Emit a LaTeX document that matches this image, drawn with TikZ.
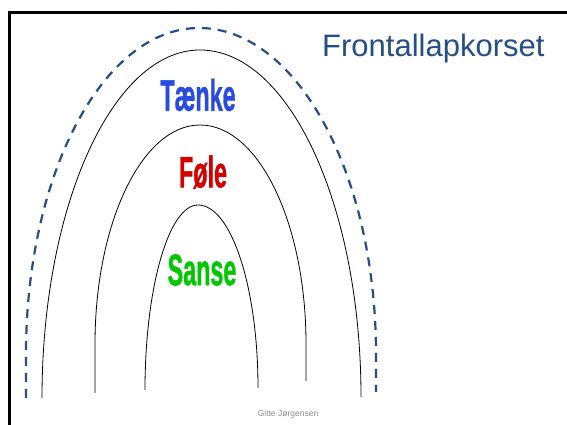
\documentclass[tikz,border=0pt]{standalone}
\usepackage{fontspec}
\setmainfont{Liberation Sans}
\newfontfamily\wordfam{Liberation Sans}[BoldFeatures={FakeBold=1.3}]

\definecolor{titleblue}{RGB}{36,78,134}
\definecolor{footgray}{RGB}{140,140,140}
% colours of the three words
\definecolor{thinkblue}{RGB}{42,76,222}
\definecolor{feelred}{RGB}{212,0,0}
\definecolor{sensegreen}{RGB}{0,200,0}

\newcommand{\wordfont}{\wordfam\bfseries\fontsize{44}{44}\selectfont}
\newcommand{\squeeze}[1]{\scalebox{0.53}[1]{#1}}

\begin{document}
\begin{tikzpicture}[x=1pt, y=1pt,
    word/.style={font=\wordfont, inner sep=0pt},
    arch/.style={line width=0.8pt, black},
    outerarch/.style={line width=2.2pt, titleblue, dash pattern=on 9pt off 7pt}]
  \useasboundingbox (0,0) rectangle (567,425);
  \clip (0,0) rectangle (567,425);
  \fill[white] (0,0) rectangle (567,425);

  % slide frame
  \draw[line width=3pt] (9,-5) |- (580,412.5);

  % title and footer
  \node[anchor=base west, inner sep=0pt, text=titleblue,
        font=\fontsize{31}{31}\selectfont] (title) at (322,368) {Frontallapkorset};
  \node[anchor=base, inner sep=0pt, text=footgray,
        font=\fontsize{8.5}{8.5}\selectfont] (footer) at (288,8) {Gitte Jørgensen};

  % dashed outer boundary
  \draw[outerarch] (26,27) -- (26,71)
     arc[start angle=180, end angle=90, x radius=173, y radius=326]
     arc[start angle=90, end angle=0, x radius=177, y radius=326]
     -- (376,33);

  % three nested arches
  \draw[arch] (42,27)
     arc[start angle=180, end angle=90, x radius=158, y radius=348]
     arc[start angle=90, end angle=0, x radius=161, y radius=347];
  \draw[arch] (95,32) -- (95,81)
     arc[start angle=180, end angle=90, x radius=105, y radius=219]
     arc[start angle=90, end angle=0, x radius=106, y radius=219]
     -- (306,44);
  \draw[arch] (145,35)
     arc[start angle=180, end angle=90, x radius=53, y radius=185]
     arc[start angle=90, end angle=0, x radius=60, y radius=183];

  % words inside the arches
  \node[word, text=thinkblue] (taenke) at (198,330) {\squeeze{Tænke}};
  \node[word, text=feelred] (foele) at (203,253) {\squeeze{Føle}};
  \node[word, text=sensegreen] (sanse) at (202,155) {\squeeze{Sanse}};
\end{tikzpicture}
\end{document}
